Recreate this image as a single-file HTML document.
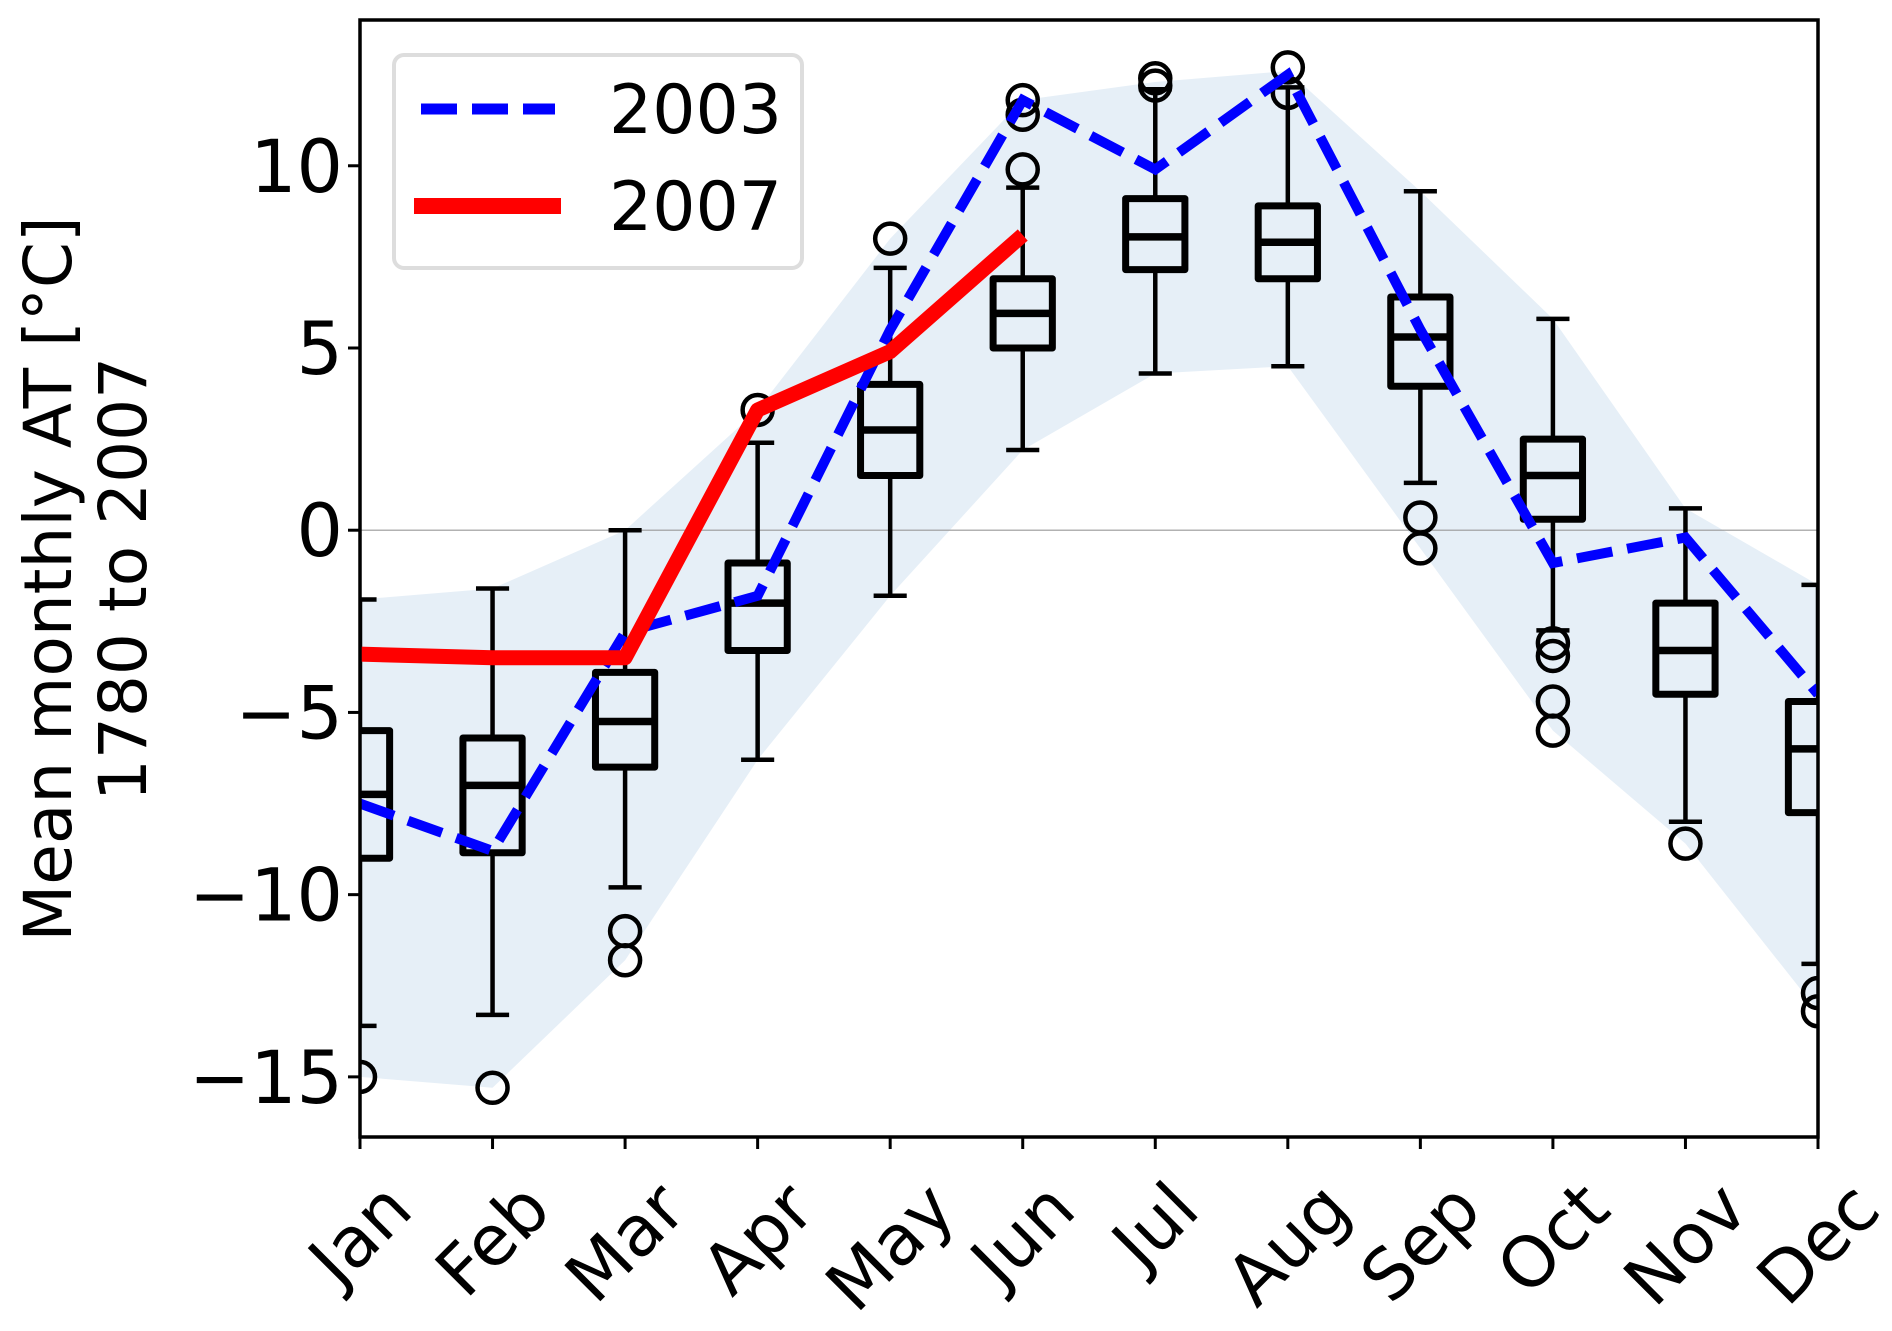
<!DOCTYPE html>
<html><head><meta charset="utf-8"><style>
html,body{margin:0;padding:0;background:#fff;}
svg text{font-family:"DejaVu Sans","Liberation Sans",sans-serif;fill:#000;}
</style></head><body>
<svg id="chart" width="1892" height="1326" viewBox="0 0 1892 1326" xmlns="http://www.w3.org/2000/svg">
<g id="plot"></g>
</svg>
<script>
const months = ["Jan","Feb","Mar","Apr","May","Jun","Jul","Aug","Sep","Oct","Nov","Dec"];
const bandUpper = [-1.9,-1.6,0,3.3,8.0,11.8,12.3,12.6,9.3,5.8,0.6,-1.5];
const bandLower = [-15.0,-15.3,-11.8,-6.3,-1.8,2.2,4.3,4.5,-0.5,-5.5,-8.6,-13.2];
const q1 = [-9.0,-8.85,-6.5,-3.3,1.5,5.0,7.15,6.9,3.95,0.3,-4.5,-7.75];
const medians = [-7.25,-7.0,-5.25,-2.0,2.75,5.95,8.05,7.9,5.3,1.5,-3.3,-6.0];
const q3 = [-5.5,-5.7,-3.9,-0.9,4.0,6.9,9.1,8.9,6.4,2.5,-2.0,-4.7];
const whiskLo = [-13.6,-13.3,-9.8,-6.3,-1.8,2.2,4.3,4.5,1.3,-2.75,-8.0,-11.9];
const whiskHi = [-1.9,-1.6,0,2.4,7.2,9.4,12.1,12.15,9.3,5.8,0.6,-1.5];
const outliers = [[-15.0],[-15.3],[-11.0,-11.8],[3.3],[8.0],[9.9,11.4,11.8],[12.2,12.4],[12.0,12.7],[0.35,-0.5],[-3.1,-3.45,-4.7,-5.5],[-8.6],[-12.7,-13.2]];
const series2003 = [-7.5,-8.8,-2.8,-1.8,5.5,11.8,9.9,12.5,5.5,-0.9,-0.2,-4.5];
const series2007 = [-3.4,-3.5,-3.5,3.3,4.9,8.1];
const yTicks = [-15,-10,-5,0,5,10];

const L=360,R=1818,T=20,B=1137;
const yMin=-16.65,yMax=14.0;
const X=i=>L+(R-L)*i/11;
const Y=v=>B-(B-T)*(v-yMin)/(yMax-yMin);
const NS="http://www.w3.org/2000/svg";
const svg=document.getElementById('chart');
function mk(tag,attrs,parent){const e=document.createElementNS(NS,tag);for(const k in attrs)e.setAttribute(k,attrs[k]);(parent||svg).appendChild(e);return e;}

const defs=mk('defs',{});
const cp=mk('clipPath',{id:'clip'},defs);
mk('rect',{x:L,y:T,width:R-L,height:B-T},cp);
const g=mk('g',{'clip-path':'url(#clip)'});



let pts=[];
for(let i=0;i<12;i++)pts.push(X(i)+','+Y(bandUpper[i]));
for(let i=11;i>=0;i--)pts.push(X(i)+','+Y(bandLower[i]));
const band=mk('polygon',{points:pts.join(' '),fill:'#e6eff7'},g);



const zl=mk('line',{x1:L,x2:R,y1:Y(0),y2:Y(0),stroke:'#999',"stroke-width":1.2},g);



const bw=132.5*0.5, cw=132.5*0.25;
for(let i=0;i<12;i++){
  const bg=mk('g',{},g);
  
  
  const x=X(i);
  mk('line',{x1:x,x2:x,y1:Y(q3[i]),y2:Y(whiskHi[i]),stroke:'#000','stroke-width':4.5},bg);
  mk('line',{x1:x,x2:x,y1:Y(q1[i]),y2:Y(whiskLo[i]),stroke:'#000','stroke-width':4.5},bg);
  mk('line',{x1:x-cw/2,x2:x+cw/2,y1:Y(whiskHi[i]),y2:Y(whiskHi[i]),stroke:'#000','stroke-width':4.5},bg);
  mk('line',{x1:x-cw/2,x2:x+cw/2,y1:Y(whiskLo[i]),y2:Y(whiskLo[i]),stroke:'#000','stroke-width':4.5},bg);
  mk('rect',{x:x-bw/2+3.5,y:Y(q3[i]),width:bw-7,height:Y(q1[i])-Y(q3[i]),fill:'none',stroke:'#000','stroke-width':7,'stroke-linejoin':'round'},bg);
  mk('line',{x1:x-bw/2+1,x2:x+bw/2-1,y1:Y(medians[i]),y2:Y(medians[i]),stroke:'#000','stroke-width':7.5},bg);
  outliers[i].forEach(v=>{
    const c=mk('circle',{cx:x,cy:Y(v),r:15,fill:'none',stroke:'#000','stroke-width':4.5},bg);
    
    
  });
}

const p03=mk('polyline',{points:series2003.map((v,i)=>X(i)+','+Y(v)).join(' '),fill:'none',stroke:'#0000ff','stroke-width':10,'stroke-dasharray':'36 15'},g);


const p07=mk('polyline',{points:series2007.map((v,i)=>X(i)+','+Y(v)).join(' '),fill:'none',stroke:'#ff0000','stroke-width':15,'stroke-linejoin':'round'},g);



const fr=mk('rect',{x:L,y:T,width:R-L,height:B-T,fill:'none',stroke:'#000','stroke-width':3.5});



yTicks.forEach(v=>{
  const t=mk('line',{x1:L-12,x2:L,y1:Y(v),y2:Y(v),stroke:'#000','stroke-width':3});
  
  
  const tx=mk('text',{x:L-17,y:Y(v)+26,'text-anchor':'end','font-size':73});
  tx.textContent=(v<0?'\u2212'+(-v):''+v);
  
  
});
months.forEach((m,i)=>{
  const t=mk('line',{x1:X(i),x2:X(i),y1:B,y2:B+12,stroke:'#000','stroke-width':3});
  
  
  const tx=mk('text',{'text-anchor':'middle','font-size':70});
  tx.textContent=m;
  
  
  const w=tx.getComputedTextLength()||110;
  const h=70*0.75;
  const bh=(w+h)/Math.SQRT2;
  const cx=X(i), cy=B+40+bh/2;
  tx.setAttribute('transform','translate('+cx+','+cy+') rotate(-45)');
  tx.setAttribute('y',h/2-2);
});
const yl=mk('text',{transform:'translate(71,579) rotate(-90)','text-anchor':'middle','font-size':66});
yl.textContent='Mean monthly AT [°C]';


const yl2=mk('text',{transform:'translate(146,579) rotate(-90)','text-anchor':'middle','font-size':66});
yl2.textContent='1780 to 2007';



const lg=mk('g',{});


mk('rect',{x:394,y:55,width:408,height:213,rx:10,fill:'#fff','fill-opacity':0.85,stroke:'#ddd','stroke-width':4},lg);
const le1=mk('line',{x1:421,x2:555,y1:109,y2:109,stroke:'#0000ff','stroke-width':11,'stroke-dasharray':'36 15'},lg);


const lt1=mk('text',{x:609,y:133,'font-size':68},lg);lt1.textContent='2003';


const le2=mk('line',{x1:414,x2:561,y1:206,y2:206,stroke:'#ff0000','stroke-width':16},lg);


const lt2=mk('text',{x:609,y:230,'font-size':68},lg);lt2.textContent='2007';


</script>
</body></html>
